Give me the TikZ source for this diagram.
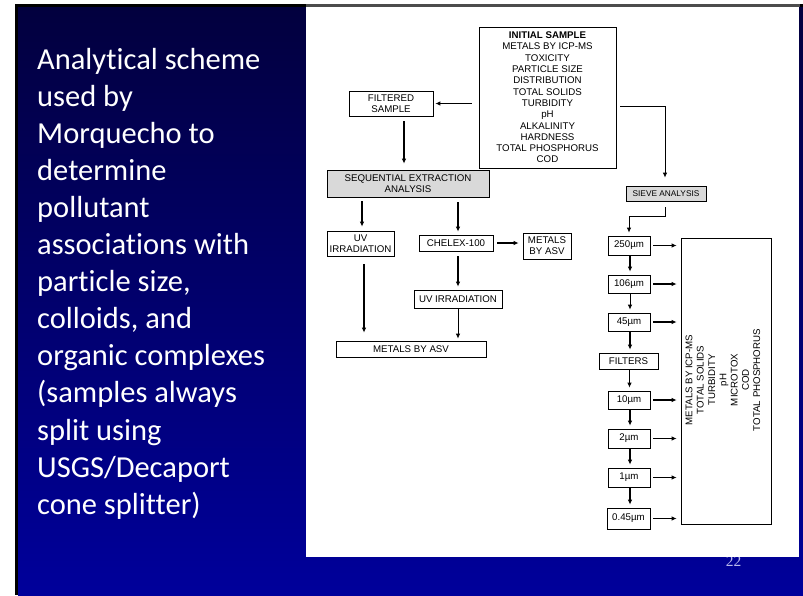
\documentclass[tikz,border=0pt]{standalone}
\usepackage{fontspec}
\newfontfamily\slidefont[Ligatures=NoCommon]{Carlito}
\newfontfamily\diafont{Liberation Sans}
\newfontfamily\numfont{Liberation Serif}
\usetikzlibrary{arrows.meta}
\definecolor{slidetop}{RGB}{2,0,62}
\definecolor{slidebot}{RGB}{0,0,155}
\definecolor{pagenum}{RGB}{185,185,235}
\definecolor{boxgrey}{RGB}{217,217,217}

\begin{document}
\begin{tikzpicture}[x=1pt,y=-1pt,
  box/.style={draw, line width=0.7pt, inner sep=0pt, align=center,
    font=\diafont\fontsize{9.7}{11.3}\selectfont},
  greybox/.style={box, fill=boxgrey},
  arr/.style={-{Latex[length=5pt,width=4.5pt]}, line width=0.9pt},
  arrthick/.style={arr, line width=1.6pt},
  lefttxt/.style={text=white, inner sep=0pt, anchor=base west,
    font=\slidefont\fontsize{30.5}{37}\selectfont}]
\useasboundingbox (0,0) rectangle (803,595);
% slide background
\shade[top color=slidetop, bottom color=slidebot] (18,7) rectangle (803,595);
\fill[black] (15,4) rectangle (803,7);
\fill[black] (15,4) rectangle (18,595);
\node[text=pagenum, inner sep=0pt, anchor=base,
  font=\numfont\fontsize{15.5}{18}\selectfont] (pgno) at (733.5,566) {22};
\fill[white] (306,7) rectangle (799,557);
\fill[black!70] (306,4) rectangle (800,7);

% caption on the left
\foreach \ln [count=\i] in {Analytical scheme, used by, Morquecho to, determine,
  pollutant, associations with, {particle size,}, {colloids, and},
  organic complexes, {(samples always}, split using, USGS/Decaport, {cone splitter)}}
  \node[lefttxt] (txt\i) at (37,{69+37.1*(\i-1)}) {\ln};

% initial sample and the filtered branch
\node[box, minimum width=137pt, minimum height=141pt] (init) at (547.5,97.5)
  {\textbf{INITIAL SAMPLE}\\METALS BY ICP-MS\\TOXICITY\\PARTICLE SIZE\\DISTRIBUTION\\
   TOTAL SOLIDS\\TURBIDITY\\pH\\ALKALINITY\\HARDNESS\\TOTAL PHOSPHORUS\\COD};
\node[box, minimum width=84pt, minimum height=25pt] (filt) at (391,103.5) {FILTERED\\SAMPLE};
\node[greybox, minimum width=162pt, minimum height=27pt] (seq) at (408,183.5)
  {SEQUENTIAL EXTRACTION\\ANALYSIS};
\node[box, minimum width=67pt, minimum height=25pt] (uv1) at (360.5,243.5) {UV\\IRRADIATION};
\node[box, minimum width=74pt, minimum height=16pt] (chelex) at (456,243) {CHELEX-100};
\node[box, minimum width=48pt, minimum height=26pt] (masv1) at (547,246) {METALS\\BY ASV};
\node[box, minimum width=88pt, minimum height=18pt] (uv2) at (458,299) {UV IRRADIATION};
\node[box, minimum width=150pt, minimum height=16pt] (masv2) at (411,349) {METALS BY ASV};

% sieve branch
\node[greybox, minimum width=80pt, minimum height=15pt,
  font=\diafont\fontsize{8.3}{10}\selectfont] (sieve) at (666,193.5) {SIEVE ANALYSIS};
\node[box, minimum width=42pt, minimum height=19pt] (s250) at (629,245.5) {250µm};
\node[box, minimum width=42pt, minimum height=18pt] (s106) at (629,284) {106µm};
\node[box, minimum width=42pt, minimum height=18pt] (s45) at (629,322) {45µm};
\node[box, minimum width=59pt, minimum height=16pt] (filters) at (628.5,361) {FILTERS};
\node[box, minimum width=42pt, minimum height=18pt] (s10) at (629,400) {10µm};
\node[box, minimum width=42pt, minimum height=19pt] (s2) at (629,438.5) {2µm};
\node[box, minimum width=42pt, minimum height=19pt] (s1) at (629,477.5) {1µm};
\node[box, minimum width=43pt, minimum height=21pt] (s045) at (628.5,518.5) {0.45µm};
\node[box, minimum width=90pt, minimum height=286pt] (big) at (726,381) {};
\node[box, draw=none, rotate=90] (bigtxt) at (723,380)
  {METALS BY ICP-MS\\TOTAL SOLIDS\\TURBIDITY\\pH\\MICROTOX\\COD\\TOTAL PHOSPHORUS};

% connectors
\draw[arr, line width=1.2pt, shorten >=2pt] ([xshift=-7pt]init.west |- filt.east) -- (filt.east);
\draw[arr, shorten >=8pt] ([xshift=4pt,yshift=-8.5pt]init.east) -| ([xshift=-1pt]sieve.north);
\draw[arrthick, shorten <=5pt, shorten >=6pt] ([xshift=13pt]filt.south) -- ([xshift=13pt]filt.south |- seq.north);
\draw[arrthick, shorten <=4pt, shorten >=4pt] ([xshift=1.5pt]uv1.north |- seq.south) -- ([xshift=1.5pt]uv1.north);
\draw[arrthick, shorten <=5pt, shorten >=3pt] ([xshift=2pt]chelex.north |- seq.south) -- ([xshift=2pt]chelex.north);
\draw[arrthick, shorten <=4pt, shorten >=4pt] (chelex.east) -- (chelex.east -| masv1.west);
\draw[arrthick, shorten <=5pt, shorten >=3pt] (uv2.north |- chelex.south) -- (uv2.north);
\draw[arr, shorten >=2pt] (uv2.south) -- (uv2.south |- masv2.north);
\draw[arrthick, shorten <=8pt, shorten >=8pt] ([xshift=3.5pt]uv1.south) -- ([xshift=3.5pt]uv1.south |- masv2.north);
\draw[arr, shorten >=3pt] ([xshift=-1pt,yshift=-6pt]sieve.south) -- ++(0,9) -| (s250.north);
\foreach \a/\b/\w in {s250/s106/arrthick, s106/s45/arr, s45/filters/arrthick,
  filters/s10/arr, s10/s2/arrthick, s2/s1/arrthick, s1/s045/arrthick}
  \draw[\w, shorten >=3pt] ([xshift=1pt]\a.south) -- ([xshift=1pt]\a.south |- \b.north);
\foreach \s/\w in {s250/arr, s106/arrthick, s45/arrthick, s10/arr, s2/arr, s1/arrthick, s045/arrthick}
  \draw[\w, line width=1.1pt, shorten <=3pt, shorten >=4pt] (\s.east) -- (\s.east -| big.west);
\end{tikzpicture}
\end{document}
